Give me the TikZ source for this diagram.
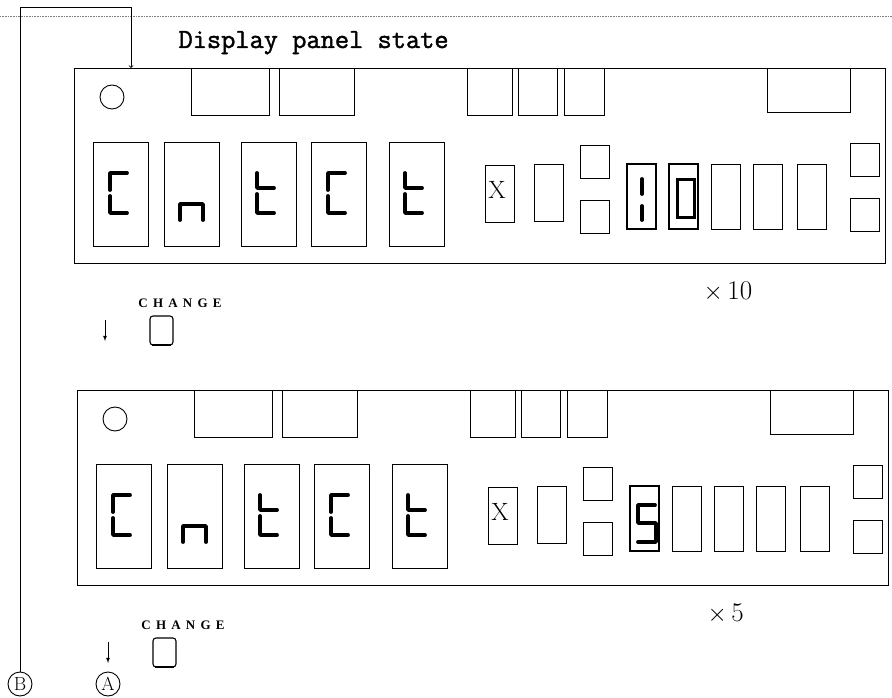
\documentclass[tikz,border=0pt]{standalone}
\usepackage{fontspec}
\usetikzlibrary{arrows,calc}
\newfontfamily\spacedfont[LetterSpace=40]{Liberation Serif}
\newfontfamily\titlefont[FakeBold=1.5]{Latin Modern Mono}

\begin{document}
\begin{tikzpicture}[x=1pt,y=-1pt,
  box/.style={line width=0.9pt},
  lit/.style={line width=1.5pt},
  seg/.style={line width=3.8pt,line cap=round,line join=round},
  btn/.style={draw,line width=1.1pt,rounded corners=3pt,minimum width=23pt,minimum height=29pt,inner sep=0pt},
  tag/.style={circle,draw,line width=0.9pt,inner sep=0pt,minimum size=24pt,font=\fontsize{19}{19}\selectfont}]
\useasboundingbox (0,0) rectangle (892,698);

% Edge of the scanned sheet.
\draw[gray,densely dotted,line width=0.6pt] (0,16) -- (892,16);

\node[anchor=base west,font=\fontsize{27.6}{30}\titlefont] (title) at (175,48) {Display panel state};

% Both panels have the same layout, the second one lower down.
\foreach \dx/\dy in {0/0,3/322}{
\begin{scope}[shift={(\dx,\dy)}]
  \draw[box] (74,68) rectangle (885,263);
  \draw[box] (112,97) circle (12pt);
  \foreach \a/\b in {191/269,279/354,467/512,518/557,564/604}
    \draw[box] (\a,68) rectangle (\b,115);
  \draw[box] (767,68) rectangle (850,112);
  \foreach \a in {93,164,241,311,389}
    \draw[box] (\a,142) rectangle ++(55,104);
  \draw[box] (485,165) rectangle (514,222);
  \draw[box] (534,164) rectangle (563,221);
  \foreach \a in {627,669,711,753,797}
    \draw[box] (\a,164) rectangle ++(29,65);
  \foreach \a/\b in {580/145,580/200,850/143,850/198}
    \draw[box] (\a,\b) rectangle ++(29,33);
  \node[font=\fontsize{25}{25}\selectfont] (mark\dy) at (497,190) {X};

  % Cn t C t in the five big digits.
  \foreach \a in {93,311}{
    \draw[seg] (\a+34,173) -- (\a+17,173) -- (\a+17,190);
    \draw[seg] (\a+17,196) -- (\a+17,213) -- (\a+34,213);}
  \draw[seg] (180,220) -- (180,204) -- (203,204) -- (203,220);
  \foreach \a in {241,389}{
    \draw[seg] (\a+16,173) -- (\a+16,188) -- (\a+33,188);
    \draw[seg] (\a+16,194) -- (\a+16,213) -- (\a+33,213);}

  \node[font=\spacedfont\bfseries\fontsize{13}{13}\selectfont] (chgtext\dy) at (180,303) {CHANGE};
  \node[btn] (chg\dy) at (161.5,330.5) {};
  \draw[line width=2pt] ([xshift=3pt,yshift=1pt]chg\dy.south west) -- ([xshift=-3pt,yshift=1pt]chg\dy.south east);
  \draw[-latex,line width=0.8pt] (105,320) -- (105,341);
\end{scope}}

% Count x10 in the first panel.
\draw[lit] (627,164) rectangle ++(29,65);
\draw[lit] (669,164) rectangle ++(29,65);
\draw[seg] (642,179) -- (642,194);
\draw[seg] (642,206) -- (642,220);
\draw[line width=3pt] (677,180) rectangle (694,217);
\node[anchor=west,font=\fontsize{27}{27}\selectfont] (ten) at (700,292) {$\times$\,10};

% Count x5 in the second panel.
\draw[lit] (630,486) rectangle ++(29,65);
\draw[seg] (655,505) -- (638,505) -- (638,523) -- (656,523) -- (656,542) -- (638,542);
\node[anchor=west,font=\fontsize{27}{27}\selectfont] (five) at (704,614) {$\times$\,5};

\node[tag] (A) at (108,684) {A};
\node[tag] (B) at (20,684) {B};
\coordinate (in1) at (131,68);
\coordinate (turn) at (131,7);
\draw[->,line width=0.8pt] (B) |- (turn) -- (in1);
\end{tikzpicture}
\end{document}
